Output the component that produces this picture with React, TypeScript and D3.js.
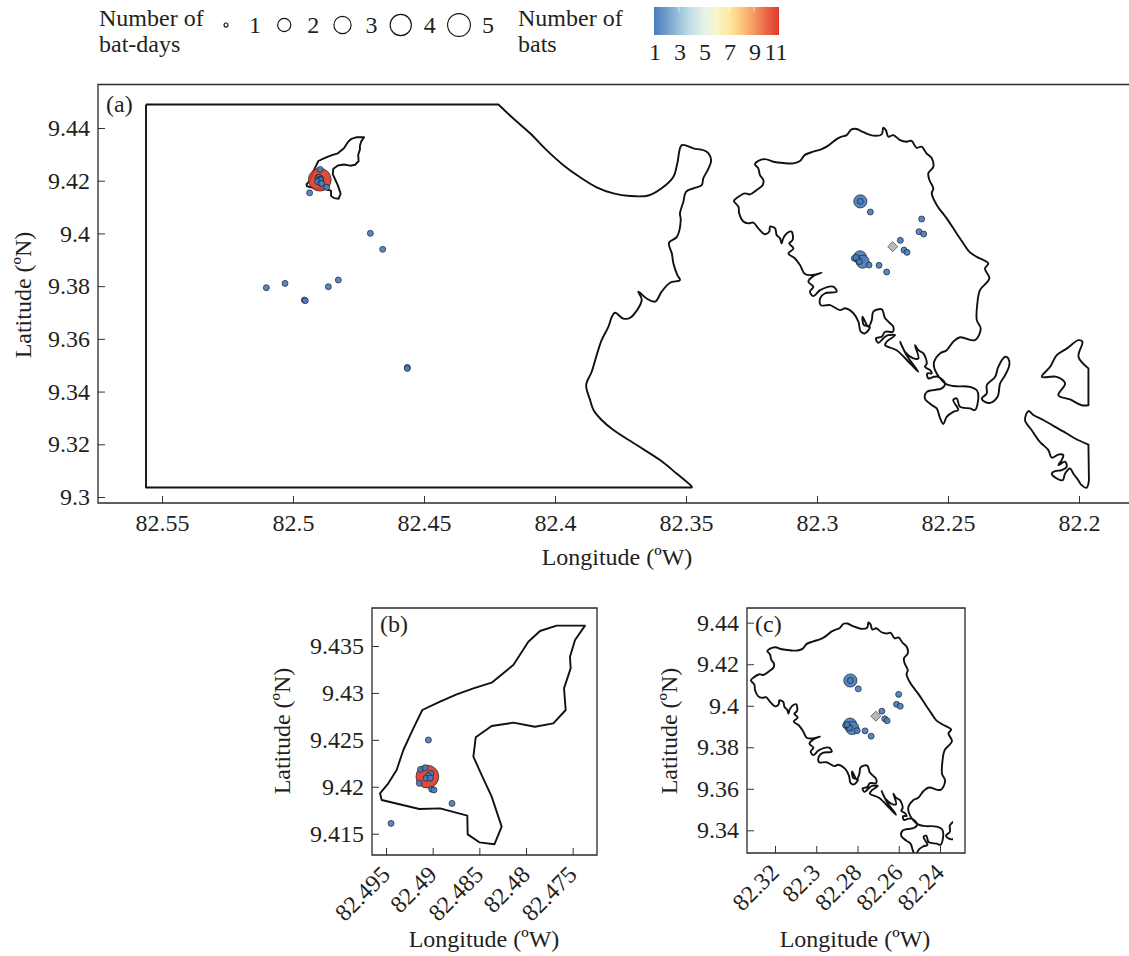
import React, { useEffect, useRef } from 'react';
import * as d3 from 'd3';

type LonLat = [number, number];

// coastlines, lon (W) / lat (N). Repeated points keep a corner sharp.
const mainland: LonLat[] = [
  [82.5561, 9.4489], [82.5561, 9.4489], [82.4216, 9.4489], [82.4216, 9.4489], [82.4159, 9.4436], [82.4095, 9.438],
  [82.4032, 9.4316], [82.3968, 9.4259], [82.3904, 9.4213], [82.3841, 9.4175], [82.3777, 9.4152], [82.3713, 9.4142],
  [82.3643, 9.4144], [82.3593, 9.4171], [82.3548, 9.4215], [82.3533, 9.4266], [82.3516, 9.4335], [82.3472, 9.4323],
  [82.3421, 9.431], [82.3404, 9.4278], [82.3414, 9.4247], [82.3434, 9.4209], [82.344, 9.4183], [82.3472, 9.4171],
  [82.35, 9.4158], [82.351, 9.412], [82.3523, 9.4076], [82.352, 9.4051], [82.3535, 9.3987], [82.3565, 9.3965],
  [82.3554, 9.3924], [82.3548, 9.3886], [82.3533, 9.3842], [82.3523, 9.3823], [82.3561, 9.3813], [82.3593, 9.3779],
  [82.3618, 9.3741], [82.365, 9.3753], [82.3682, 9.3779], [82.3669, 9.3747], [82.3713, 9.368], [82.3739, 9.3677],
  [82.3771, 9.3699], [82.3783, 9.3684], [82.3796, 9.3646], [82.3822, 9.3595], [82.3841, 9.3538], [82.386, 9.3475],
  [82.3881, 9.3425], [82.3866, 9.3368], [82.3853, 9.333], [82.3822, 9.3292], [82.3777, 9.3254], [82.3688, 9.3197],
  [82.3599, 9.314], [82.3536, 9.3089], [82.3478, 9.3039], [82.3478, 9.3036], [82.3478, 9.3036], [82.5561, 9.3036],
  [82.5561, 9.3036],
];

const colonIsland: LonLat[] = [
  [82.3317, 9.4123], [82.33, 9.4139], [82.3275, 9.4152], [82.3256, 9.4148], [82.323, 9.4165], [82.3207, 9.4184],
  [82.3205, 9.4203], [82.3218, 9.4222], [82.3224, 9.4247], [82.3237, 9.4263], [82.3224, 9.4275], [82.3198, 9.4282],
  [82.3167, 9.4272], [82.3128, 9.4267], [82.309, 9.4266], [82.3065, 9.4275], [82.3046, 9.4298], [82.3014, 9.431],
  [82.2982, 9.432], [82.2957, 9.4333], [82.2925, 9.4358], [82.2906, 9.4367], [82.2887, 9.4373], [82.2868, 9.4395],
  [82.2849, 9.4396], [82.2823, 9.4384], [82.2785, 9.4371], [82.2753, 9.4376], [82.2747, 9.4401], [82.2737, 9.4392],
  [82.2728, 9.4367], [82.2709, 9.4373], [82.2683, 9.4354], [82.2658, 9.4348], [82.2639, 9.4351], [82.262, 9.4325],
  [82.2601, 9.4329], [82.2582, 9.4304], [82.2562, 9.4285], [82.2556, 9.4253], [82.2575, 9.4228], [82.2571, 9.4203],
  [82.2556, 9.4171], [82.2562, 9.4152], [82.2543, 9.4108], [82.2505, 9.4057], [82.2467, 9.4], [82.2441, 9.3962],
  [82.2419, 9.3931], [82.239, 9.3911], [82.2346, 9.3886], [82.2359, 9.3867], [82.2342, 9.3829], [82.2378, 9.3785],
  [82.2388, 9.3734], [82.239, 9.3671], [82.2375, 9.3639], [82.2397, 9.3595], [82.2454, 9.3606], [82.248, 9.3589],
  [82.2505, 9.3557], [82.253, 9.3545], [82.2553, 9.3513], [82.255, 9.3482], [82.2511, 9.3431], [82.248, 9.3421],
  [82.2416, 9.3418], [82.239, 9.3405], [82.2384, 9.338], [82.2397, 9.333], [82.2416, 9.3336], [82.2454, 9.3342],
  [82.2467, 9.3374], [82.248, 9.3368], [82.2461, 9.333], [82.248, 9.3323], [82.2505, 9.3304], [82.2518, 9.3277],
  [82.253, 9.3298], [82.2543, 9.3336], [82.2562, 9.3349], [82.2588, 9.3374], [82.2581, 9.3399], [82.2524, 9.3412],
  [82.2511, 9.3431], [82.2537, 9.3456], [82.2553, 9.3456], [82.2575, 9.345], [82.2579, 9.3469], [82.2562, 9.3469],
  [82.2569, 9.3482], [82.2588, 9.3494], [82.2581, 9.3507], [82.2594, 9.3545], [82.2613, 9.3557], [82.2626, 9.3576],
  [82.2613, 9.3526], [82.2632, 9.3526], [82.2664, 9.3551], [82.2683, 9.3589], [82.2658, 9.3538], [82.2613, 9.3475],
  [82.2645, 9.3507], [82.2696, 9.3557], [82.274, 9.3576], [82.2734, 9.3589], [82.2702, 9.3614], [82.2728, 9.3614],
  [82.274, 9.3608], [82.2766, 9.3585], [82.2775, 9.3602], [82.2753, 9.3608], [82.274, 9.3627], [82.2711, 9.3627],
  [82.2709, 9.3646], [82.274, 9.3678], [82.2753, 9.3712], [82.2785, 9.3703], [82.2791, 9.3671], [82.2804, 9.3646],
  [82.2826, 9.3684], [82.2821, 9.3652], [82.2798, 9.3646], [82.2817, 9.3621], [82.2833, 9.3627], [82.2842, 9.3665],
  [82.2861, 9.3697], [82.2893, 9.3716], [82.2912, 9.3709], [82.295, 9.3728], [82.2986, 9.3728], [82.2988, 9.3754],
  [82.2969, 9.3773], [82.2925, 9.3779], [82.2938, 9.3798], [82.2988, 9.3785], [82.3014, 9.3762], [82.3027, 9.3779],
  [82.3014, 9.3798], [82.3033, 9.3817], [82.3014, 9.3838], [82.2982, 9.3851], [82.302, 9.3842], [82.3046, 9.3846],
  [82.3065, 9.388], [82.3084, 9.3905], [82.3109, 9.3924], [82.309, 9.3943], [82.3106, 9.3962], [82.3093, 9.3975],
  [82.3097, 9.4007], [82.3116, 9.4], [82.3129, 9.3981], [82.3135, 9.3962], [82.3141, 9.3981], [82.3154, 9.3994],
  [82.316, 9.4019], [82.3179, 9.4026], [82.3182, 9.4007], [82.3199, 9.3997], [82.3224, 9.4019], [82.3243, 9.4041],
  [82.3262, 9.4038], [82.3281, 9.4045], [82.3297, 9.4076], [82.33, 9.4102],
];

const narrowIsland: LonLat[] = [
  [82.2359, 9.3361], [82.2371, 9.3374], [82.2352, 9.3393], [82.2352, 9.3424], [82.232, 9.3456], [82.2308, 9.3494],
  [82.2282, 9.3532], [82.227, 9.3526], [82.2266, 9.35], [82.2282, 9.3462], [82.2301, 9.3431], [82.2311, 9.338],
  [82.2339, 9.3357],
];

const eastIsland: LonLat[] = [
  [82.2142, 9.3456], [82.211, 9.3494], [82.2085, 9.3538], [82.2047, 9.3563], [82.2002, 9.3595], [82.1987, 9.3589],
  [82.2002, 9.3532], [82.1964, 9.3488], [82.1964, 9.3488], [82.1964, 9.3348], [82.1964, 9.3348], [82.199, 9.3348],
  [82.2034, 9.337], [82.2079, 9.3386], [82.2053, 9.3431], [82.2085, 9.3456],
];

const southEastIsland: LonLat[] = [
  [82.2193, 9.3326], [82.2174, 9.3311], [82.2136, 9.3292], [82.2098, 9.327], [82.2047, 9.3241], [82.2015, 9.3222],
  [82.1964, 9.3199], [82.1964, 9.3199], [82.1962, 9.3064], [82.1962, 9.3064], [82.1971, 9.3035], [82.199, 9.3045],
  [82.2003, 9.3064], [82.2022, 9.3089], [82.2034, 9.3108], [82.2053, 9.3089], [82.2062, 9.3064], [82.2085, 9.307],
  [82.2104, 9.3089], [82.2092, 9.3098], [82.2066, 9.3102], [82.2047, 9.3115], [82.2053, 9.3134], [82.2079, 9.3121],
  [82.2066, 9.314], [82.206, 9.3159], [82.2079, 9.3161], [82.2104, 9.3149], [82.2117, 9.3178], [82.2143, 9.3203],
  [82.2155, 9.3216], [82.2181, 9.3254], [82.2206, 9.3292],
];

const cayCoast: LonLat[] = [
  [82.49564, 9.4193], [82.49475, 9.42037], [82.49386, 9.42179], [82.49314, 9.42392], [82.49207, 9.42623],
  [82.49111, 9.42818], [82.48921, 9.42907], [82.48743, 9.42985], [82.48564, 9.43049], [82.48368, 9.43109],
  [82.48136, 9.43298], [82.47975, 9.43546], [82.4785, 9.4366], [82.47672, 9.43717], [82.47368, 9.43717],
  [82.47475, 9.43564], [82.47529, 9.43386], [82.47522, 9.43262], [82.47593, 9.43049],
  [82.47575, 9.42818], [82.47707, 9.42676], [82.47904, 9.4264], [82.48136, 9.42683], [82.48368, 9.42648],
  [82.48539, 9.42527], [82.48564, 9.42321], [82.48475, 9.42125], [82.48368, 9.41895], [82.48261, 9.41575],
  [82.48339, 9.41387], [82.485, 9.41408], [82.48625, 9.41493], [82.48629, 9.41692],
  [82.48921, 9.4177], [82.49143, 9.41763], [82.49546, 9.41859],
];

// roost records: lon, lat, bat-days, number of bats
type Roost = [number, number, number, number];

const cayRoosts: Roost[] = [
  [82.49057, 9.42108, 5, 11],
  [82.49046, 9.42498, 1, 1], [82.49446, 9.4161, 1, 1], [82.48793, 9.41823, 1, 1], [82.49129, 9.42186, 1, 1],
  [82.49082, 9.42203, 1, 1], [82.49018, 9.42143, 1, 1], [82.49046, 9.42118, 1, 1], [82.49071, 9.4209, 1, 1],
  [82.49025, 9.42093, 1, 1], [82.49143, 9.42037, 1, 1], [82.49011, 9.41973, 1, 1], [82.48986, 9.41966, 1, 1],
];

const mainlandRoosts: Roost[] = [
  [82.47048, 9.40003, 1, 1], [82.46577, 9.39396, 1, 1], [82.4827, 9.38232, 1, 1], [82.48651, 9.37979, 1, 1],
  [82.50305, 9.38105, 1, 1], [82.51018, 9.37941, 1, 1], [82.49567, 9.37473, 1, 1], [82.49529, 9.37448, 1, 1],
  [82.45636, 9.34918, 1, 1], [82.45636, 9.3488, 1, 1],
];

const colonRoosts: Roost[] = [
  [82.28346, 9.41217, 2, 1], [82.28358, 9.39092, 2, 1], [82.28257, 9.38928, 2, 1],
  [82.28346, 9.41217, 1, 1], [82.27964, 9.40813, 1, 1], [82.26005, 9.40547, 1, 1], [82.26106, 9.40066, 1, 1],
  [82.25928, 9.39978, 1, 1], [82.26819, 9.39737, 1, 1], [82.26679, 9.3937, 1, 1], [82.26564, 9.39282, 1, 1],
  [82.27633, 9.38789, 1, 1], [82.2734, 9.38536, 1, 1], [82.28015, 9.38801, 1, 1], [82.28575, 9.39054, 1, 1],
  [82.2846, 9.39016, 1, 1], [82.28384, 9.38928, 1, 1], [82.28511, 9.39092, 1, 1],
];

const capture: LonLat = [82.27111, 9.39497];

const batDayLevels = [1, 2, 3, 4, 5];
const batDayRadii = [3, 6.6, 8.6, 10.6, 11.4];
const batCountTicks = [1, 3, 5, 7, 9, 11];
const batCountSteps = [1, 2, 3, 4, 5, 6, 7, 8, 9, 10, 11];
const batRamp = ['#4a7dbd', '#6f9ecb', '#9bc3dc', '#c6e0e8', '#e6f1ea', '#f8f5c8', '#fde9a3', '#fbc77f', '#f5995f', '#ea6546', '#df3b2a'];

const aLonTicks = [82.55, 82.5, 82.45, 82.4, 82.35, 82.3, 82.25, 82.2];
const aLatTicks = [9.44, 9.42, 9.4, 9.38, 9.36, 9.34, 9.32, 9.3];
const bLonTicks = [82.495, 82.49, 82.485, 82.48, 82.475];
const bLatTicks = [9.435, 9.43, 9.425, 9.42, 9.415];
const cLonTicks = [82.32, 82.3, 82.28, 82.26, 82.24];
const cLatTicks = [9.44, 9.42, 9.4, 9.38, 9.36, 9.34];

const FONT = '"Liberation Serif", serif';
const FONT_SIZE = 24;
const INK = '#231f20';

const batColor = d3.scaleLinear<string>().domain(batCountSteps).range(batRamp);
const radius = d3.scaleOrdinal<number, number>().domain(batDayLevels).range(batDayRadii);

type PanelOpts = {
  id: string;
  label: string;
  labelPos: [number, number];
  frame: { x0: number; x1: number; y0: number; y1: number };
  lon: d3.ScaleLinear<number, number>;
  lat: d3.ScaleLinear<number, number>;
  lonTicks: number[];
  latTicks: number[];
  coasts: LonLat[][];
  straight?: LonLat[][];
  roosts: Roost[];
  showCapture: boolean;
  clipRight?: number;
  rotate: boolean;
  lonTitle: [number, number];
  latTitle: [number, number];
};

function drawPanel(root: d3.Selection<SVGSVGElement, unknown, null, undefined>, p: PanelOpts) {
  const { x0, x1, y0, y1 } = p.frame;
  const g = root.append('g');

  g.append('clipPath').attr('id', p.id)
    .append('rect').attr('x', x0).attr('y', y0)
    .attr('width', (p.clipRight ?? x1) - x0).attr('height', y1 - y0);

  const smooth = d3.line<LonLat>().x(d => p.lon(d[0])).y(d => p.lat(d[1]))
    .curve(d3.curveCatmullRomClosed.alpha(0.5));
  const polygon = d3.line<LonLat>().x(d => p.lon(d[0])).y(d => p.lat(d[1]))
    .curve(d3.curveLinearClosed);
  const map = g.append('g').attr('clip-path', `url(#${p.id})`);

  const drawCoasts = (rows: LonLat[][], gen: d3.Line<LonLat>) => {
    rows.forEach(row => {
      map.append('path').datum(row).attr('d', gen)
        .attr('fill', 'none').attr('stroke', '#111').attr('stroke-width', 1.9).attr('stroke-linejoin', 'round');
    });
  };
  drawCoasts(p.coasts, smooth);
  drawCoasts(p.straight ?? [], polygon);

  if (p.showCapture) {
    map.append('path')
      .attr('d', d3.symbol(d3.symbolDiamond2, 64)() as string)
      .attr('transform', `translate(${p.lon(capture[0])},${p.lat(capture[1])})`)
      .attr('fill', '#b9b9b9').attr('stroke', '#666').attr('stroke-width', 0.9);
  }

  map.selectAll('circle.roost').data(p.roosts).enter().append('circle')
    .attr('class', 'roost')
    .attr('cx', d => p.lon(d[0])).attr('cy', d => p.lat(d[1]))
    .attr('r', d => radius(d[2]))
    .attr('fill', d => batColor(d[3])).attr('fill-opacity', 0.92)
    .attr('stroke', '#1c2733').attr('stroke-width', 0.9).attr('stroke-opacity', 0.8);

  // inward ticks
  const bottom = d3.axisBottom(p.lon).tickValues(p.lonTicks).tickFormat(d => String(d))
    .tickSizeInner(-7).tickSizeOuter(0).tickPadding(11);
  const left = d3.axisLeft(p.lat).tickValues(p.latTicks).tickFormat(d => String(d))
    .tickSizeInner(-7).tickSizeOuter(0).tickPadding(8);

  const xAxis = g.append('g').attr('transform', `translate(0,${y1})`).call(bottom);
  const yAxis = g.append('g').attr('transform', `translate(${x0},0)`).call(left);
  [xAxis, yAxis].forEach(a => {
    a.select('.domain').remove();
    a.selectAll('line').attr('stroke', '#333').attr('stroke-width', 1);
    a.selectAll('text').attr('font-family', FONT).attr('font-size', FONT_SIZE).attr('fill', INK);
  });
  if (p.rotate) {
    xAxis.selectAll('text')
      .attr('text-anchor', 'end')
      .attr('dy', '0.35em').attr('dx', '0')
      .attr('y', 0).attr('x', 0)
      .attr('transform', 'translate(-1,15) rotate(-45)');
  }

  g.append('path')
    .attr('d', x1 >= 1129
      ? `M${x1},${y0}H${x0}V${y1}H${x1}`
      : `M${x0},${y0}H${x1}V${y1}H${x0}Z`)
    .attr('fill', 'none').attr('stroke', '#2b2b2b').attr('stroke-width', 1.3);

  const text = (x: number, y: number, s: string) => g.append('text')
    .attr('x', x).attr('y', y).text(s)
    .attr('font-family', FONT).attr('font-size', FONT_SIZE).attr('fill', INK);

  text(p.labelPos[0], p.labelPos[1], p.label);
  text(p.lonTitle[0], p.lonTitle[1], 'Longitude (ºW)').attr('text-anchor', 'middle');
  g.append('text')
    .attr('transform', `translate(${p.latTitle[0]},${p.latTitle[1]}) rotate(-90)`)
    .attr('text-anchor', 'middle').text('Latitude (ºN)')
    .attr('font-family', FONT).attr('font-size', FONT_SIZE).attr('fill', INK);
}

function drawLegend(root: d3.Selection<SVGSVGElement, unknown, null, undefined>) {
  const g = root.append('g').attr('font-family', FONT).attr('font-size', FONT_SIZE).attr('fill', INK);

  g.append('text').attr('x', 99).attr('y', 26).text('Number of');
  g.append('text').attr('x', 99).attr('y', 52).text('bat-days');
  g.append('text').attr('x', 518).attr('y', 26).text('Number of');
  g.append('text').attr('x', 518).attr('y', 52).text('bats');

  const sizeX = d3.scaleLinear().domain([1, 5]).range([226, 459]);
  g.selectAll('circle').data(batDayLevels).enter().append('circle')
    .attr('cx', d => sizeX(d)).attr('cy', 25)
    .attr('r', d => (d === 1 ? 2 : radius(d)))
    .attr('fill', 'none').attr('stroke', '#111').attr('stroke-width', 1.1);
  g.selectAll('text.level').data(batDayLevels).enter().append('text')
    .attr('class', 'level')
    .attr('x', d => sizeX(d) + 29).attr('y', 33).attr('text-anchor', 'middle').text(d => d);

  const barX = d3.scaleLinear().domain([1, 11]).range([654, 779]);
  const grad = root.append('defs').append('linearGradient').attr('id', 'batRampFill');
  batCountSteps.forEach(n => {
    grad.append('stop').attr('offset', `${(n - 1) * 10}%`).attr('stop-color', batColor(n));
  });
  g.append('rect').attr('x', barX(1)).attr('y', 7).attr('width', barX(11) - barX(1)).attr('height', 28)
    .attr('fill', 'url(#batRampFill)');
  g.selectAll('line').data(batCountTicks.slice(1, -1)).enter().append('line')
    .attr('x1', d => barX(d)).attr('x2', d => barX(d)).attr('y1', 7).attr('y2', 12)
    .attr('stroke', '#fff').attr('stroke-opacity', 0.6);
  g.selectAll('text.count').data(batCountTicks).enter().append('text')
    .attr('class', 'count')
    .attr('x', d => barX(d) + (d === 11 ? -3 : 1)).attr('y', 60).attr('text-anchor', 'middle').text(d => d);
}

export default function App() {
  const ref = useRef<SVGSVGElement>(null);

  useEffect(() => {
    const svg = d3.select(ref.current as SVGSVGElement);
    svg.selectAll('*').remove();

    drawLegend(svg);

    // panel a georeference sits slightly off the insets for the cay
    const aCay = cayCoast.map(([lon, lat]): LonLat => [lon - 0.0008, lat - 0.0007]);
    const aCayRoosts = cayRoosts.map(([lon, lat, n, b]): Roost => [lon - 0.0008, lat - 0.0007, n, b]);

    drawPanel(svg, {
      id: 'clipA', label: '(a)', labelPos: [106, 112],
      frame: { x0: 98, x1: 1129, y0: 84.5, y1: 503 },
      lon: d3.scaleLinear().domain([82.55, 82.2]).range([162, 1079]),
      lat: d3.scaleLinear().domain([9.44, 9.3]).range([128, 497]),
      lonTicks: aLonTicks, latTicks: aLatTicks,
      coasts: [mainland, colonIsland, narrowIsland, eastIsland, southEastIsland],
      straight: [aCay],
      roosts: [...aCayRoosts, ...mainlandRoosts, ...colonRoosts],
      showCapture: true, rotate: false,
      lonTitle: [617, 565], latTitle: [31, 295],
    });

    drawPanel(svg, {
      id: 'clipB', label: '(b)', labelPos: [380, 632],
      frame: { x0: 372, x1: 597, y0: 608, y1: 855 },
      lon: d3.scaleLinear().domain([82.495, 82.475]).range([386, 572.7]),
      lat: d3.scaleLinear().domain([9.435, 9.415]).range([646, 833.7]),
      lonTicks: bLonTicks, latTicks: bLatTicks,
      coasts: [],
      straight: [cayCoast],
      roosts: cayRoosts,
      showCapture: false, rotate: true,
      lonTitle: [484, 947], latTitle: [290, 731],
    });

    drawPanel(svg, {
      id: 'clipC', label: '(c)', labelPos: [755, 632],
      frame: { x0: 747, x1: 965, y0: 608, y1: 853 },
      lon: d3.scaleLinear().domain([82.32, 82.24]).range([775, 940]),
      lat: d3.scaleLinear().domain([9.44, 9.34]).range([622.7, 830.3]),
      lonTicks: cLonTicks, latTicks: cLatTicks,
      coasts: [colonIsland, narrowIsland],
      roosts: colonRoosts,
      showCapture: true, clipRight: 953, rotate: true,
      lonTitle: [855, 947], latTitle: [677, 731],
    });
  }, []);

  return (
    <svg ref={ref} width={1129} height={956}
      style={{ position: 'absolute', left: 0, top: 0, display: 'block', background: '#fff' }} />
  );
}
